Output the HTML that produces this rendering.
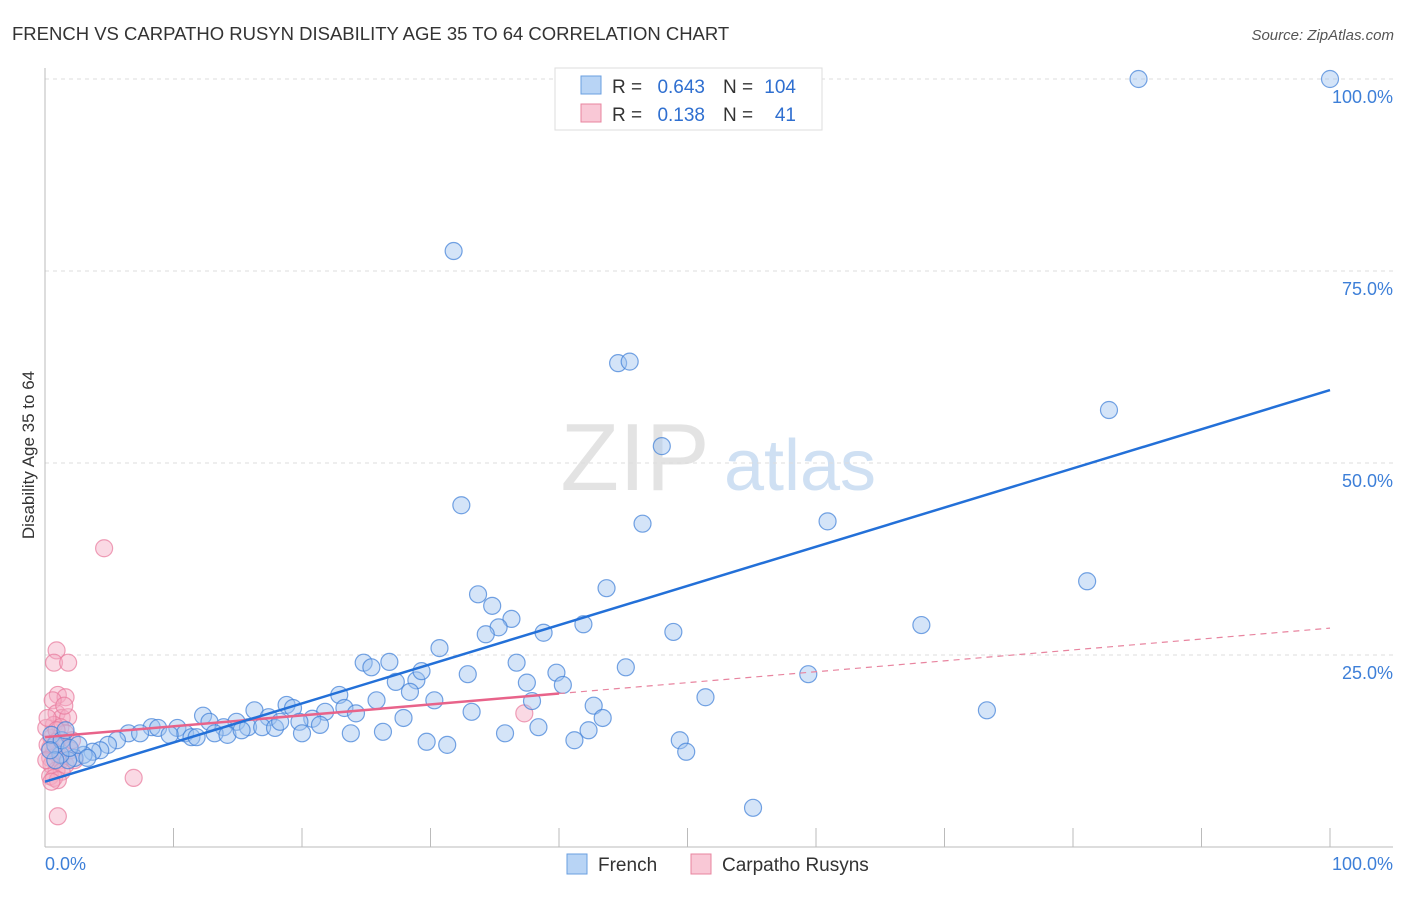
<!DOCTYPE html>
<html><head><meta charset="utf-8"><style>
body{margin:0;background:#fff;font-family:"Liberation Sans",sans-serif;}
svg text{font-family:"Liberation Sans",sans-serif;}
</style></head><body>
<svg id="chart" width="1406" height="892">
<text x="12" y="40" font-size="18.5" fill="#333">FRENCH VS CARPATHO RUSYN DISABILITY AGE 35 TO 64 CORRELATION CHART</text>
<text x="1394" y="40" font-size="15" fill="#555" font-style="italic" text-anchor="end">Source: ZipAtlas.com</text>
<text x="34" y="455" font-size="17" fill="#333" text-anchor="middle" transform="rotate(-90 34 455)">Disability Age 35 to 64</text>
<g><text x="635" y="490" font-size="96" fill="#ddd" font-family="Liberation Serif" text-anchor="middle" opacity="0.8">ZIP</text><text x="800" y="490" font-size="72" fill="#cfe0f3" text-anchor="middle">atlas</text></g>
<g id="grid"></g><g id="axes"></g><g id="marks"></g>
<g>
<rect x="555" y="68" width="267" height="62" fill="#fff" stroke="#ddd"/>
<rect x="581" y="76" width="20" height="18" fill="#b8d4f5" stroke="#6a9fe0"/>
<text x="612" y="93" font-size="19" fill="#333">R =</text>
<text x="705" y="93" font-size="19" fill="#2f6fd0" text-anchor="end">0.643</text>
<text x="723" y="93" font-size="19" fill="#333">N =</text>
<text x="796" y="93" font-size="19" fill="#2f6fd0" text-anchor="end">104</text>
<rect x="581" y="104" width="20" height="18" fill="#f9c8d6" stroke="#e8849f"/>
<text x="612" y="121" font-size="19" fill="#333">R =</text>
<text x="705" y="121" font-size="19" fill="#2f6fd0" text-anchor="end">0.138</text>
<text x="723" y="121" font-size="19" fill="#333">N =</text>
<text x="796" y="121" font-size="19" fill="#2f6fd0" text-anchor="end">41</text>
</g>
<g>
<rect x="567" y="854" width="20" height="20" fill="#b8d4f5" stroke="#6a9fe0"/>
<text x="598" y="871" font-size="19" fill="#333">French</text>
<rect x="691" y="854" width="20" height="20" fill="#f9c8d6" stroke="#e8849f"/>
<text x="722" y="871" font-size="19" fill="#333">Carpatho Rusyns</text>
</g>
</svg>
<script>
const frenchX=[85.1,100,31.8,44.6,45.5,48.0,82.8,32.4,46.5,60.9,81.1,43.7,33.7,34.8,36.3,35.3,34.3,38.8,41.9,48.9,68.2,30.7,24.8,25.4,26.8,36.7,45.2,59.4,32.9,39.8,27.3,28.9,29.3,28.4,37.5,40.3,22.9,25.8,30.3,37.9,51.4,18.8,19.3,16.3,12.3,23.3,21.8,24.2,33.2,27.9,42.7,43.4,73.3,17.4,12.8,14.9,13.9,15.8,16.9,17.9,18.3,20.8,19.8,21.4,8.3,8.8,10.3,10.9,11.4,11.8,13.2,14.2,15.3,20.0,23.8,26.3,35.8,38.4,42.3,41.2,29.7,31.3,49.4,49.9,55.1,6.5,7.4,9.7,5.6,4.9,4.3,3.7,3.0,2.3,1.8,1.2,0.8,0.5,1.3,1.9,2.6,3.3,0.8,0.4,1.6];
const frenchY=[100,100,77.6,63.0,63.2,52.2,56.9,44.5,42.1,42.4,34.6,33.7,32.9,31.4,29.7,28.6,27.7,27.9,29.0,28.0,28.9,25.9,24.0,23.4,24.1,24.0,23.4,22.5,22.5,22.7,21.5,21.7,22.9,20.2,21.4,21.1,19.8,19.1,19.1,19.0,19.5,18.5,18.1,17.8,17.1,18.1,17.6,17.4,17.6,16.8,18.4,16.8,17.8,16.9,16.3,16.3,15.6,15.6,15.6,15.5,16.3,16.7,16.3,15.9,15.6,15.5,15.5,14.8,14.3,14.3,14.8,14.6,15.2,14.8,14.8,15.0,14.8,15.6,15.2,13.9,13.7,13.3,13.9,12.4,5.1,14.8,14.8,14.6,13.9,13.3,12.6,12.4,12.0,11.6,11.3,12.0,13.3,14.6,13.9,12.9,13.3,11.6,11.3,12.6,15.2];
const rusynX=[4.6,0.9,0.7,1.8,1.0,1.6,0.6,0.9,1.3,1.8,0.7,1.2,1.6,0.5,0.9,1.3,0.4,0.7,1.0,0.4,1.2,1.6,0.5,0.9,1.3,0.4,0.7,1.0,0.5,6.9,1.0,37.3,0.2,2.0,2.1,0.1,0.2,1.5,0.1,0.9,2.3];
const rusynY=[38.9,25.6,24.0,24.0,19.8,19.5,19.1,17.4,16.8,16.9,15.9,15.6,14.8,14.2,13.7,13.3,12.9,12.4,12.0,11.6,11.3,10.7,10.7,10.0,9.8,9.2,9.0,8.7,8.5,9.0,4.0,17.4,13.3,12.6,13.9,15.5,16.8,18.4,11.3,15.2,11.3];
const frenchTrend=[8.5,59.5];
const rusynTrend=[14.3,28.5];
const rusynSolidEnd=40;
const yTicks=[25,50,75,100];
const NS='http://www.w3.org/2000/svg';
const sx=v=>45+v*12.85, sy=v=>847-v*7.68;
function mk(tag,attrs,parent){const e=document.createElementNS(NS,tag);for(const k in attrs)e.setAttribute(k,attrs[k]);parent.appendChild(e);return e;}
const grid=document.getElementById('grid'),axes=document.getElementById('axes'),marks=document.getElementById('marks');
yTicks.forEach(t=>{
 const l=mk('line',{x1:45,x2:1393,y1:sy(t),y2:sy(t),stroke:'#ddd','stroke-dasharray':'4,4'},grid);
 
 
 const tx=mk('text',{x:1393,y:sy(t)+24,'font-size':18,fill:'#3d7fd8','text-anchor':'end'},axes);
 tx.textContent=t.toFixed(1)+'%';
 
 
});
let a=mk('line',{x1:45,x2:45,y1:68,y2:847,stroke:'#bbb'},axes);


a=mk('line',{x1:45,x2:1393,y1:847,y2:847,stroke:'#bbb'},axes);


for(let i=1;i<=10;i++){const t=mk('line',{x1:sx(i*10),x2:sx(i*10),y1:828,y2:847,stroke:'#bbb'},axes);
 
 }
[[0,'0.0%','start',45],[100,'100.0%','end',1393]].forEach(d=>{const t=mk('text',{x:d[3],y:870,'font-size':18,fill:'#3d7fd8','text-anchor':d[2]},axes);t.textContent=d[1];
 
 });
rusynX.forEach((x,i)=>{const c=mk('circle',{cx:sx(x),cy:sy(rusynY[i]),r:8.5,fill:'rgba(245,170,195,0.45)',stroke:'rgba(232,120,155,0.7)','stroke-width':1.2},marks);
 
 });
frenchX.forEach((x,i)=>{const c=mk('circle',{cx:sx(x),cy:sy(frenchY[i]),r:8.5,fill:'rgba(160,196,240,0.45)',stroke:'rgba(60,125,215,0.7)','stroke-width':1.2},marks);
 
 });
const ry=x=>rusynTrend[0]+(rusynTrend[1]-rusynTrend[0])*x/100;
let l=mk('line',{x1:sx(rusynSolidEnd),y1:sy(ry(rusynSolidEnd)),x2:sx(100),y2:sy(ry(100)),stroke:'#e8849f','stroke-width':1.2,'stroke-dasharray':'6,5'},marks);


l=mk('line',{x1:sx(0),y1:sy(ry(0)),x2:sx(rusynSolidEnd),y2:sy(ry(rusynSolidEnd)),stroke:'#e8638a','stroke-width':2.5},marks);


l=mk('line',{x1:sx(0),y1:sy(frenchTrend[0]),x2:sx(100),y2:sy(frenchTrend[1]),stroke:'#2370d8','stroke-width':2.5},marks);


</script>
</body></html>
